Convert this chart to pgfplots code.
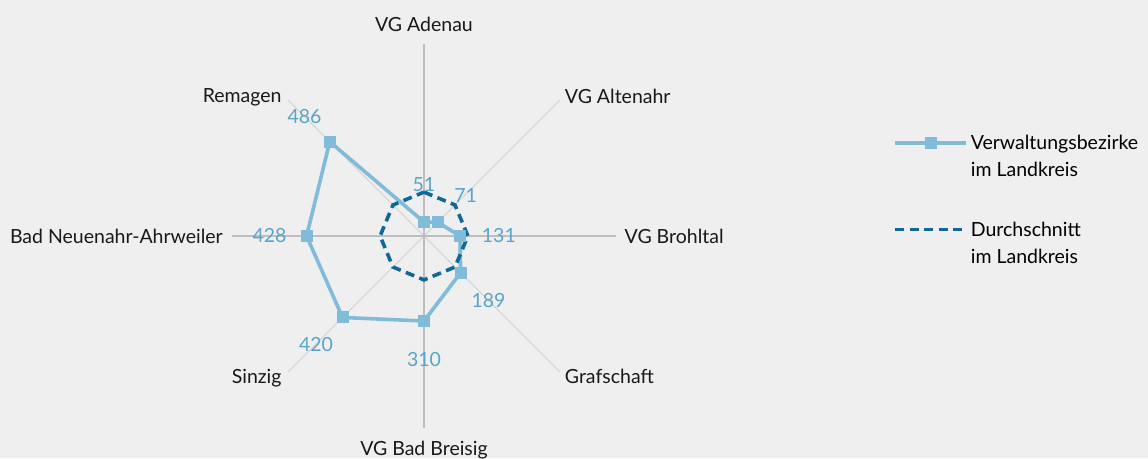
\documentclass[border=0pt]{standalone}
\usepackage{fontspec}
\setmainfont{Lato}
\usepackage{pgfplots}
\pgfplotsset{compat=1.18}
\usepgfplotslibrary{polar}
\definecolor{bg}{RGB}{238,239,238}
\definecolor{serie}{RGB}{128,187,217}
\definecolor{vallab}{RGB}{90,164,204}
\definecolor{avg}{RGB}{14,104,152}
\definecolor{spokeA}{RGB}{190,190,190}
\definecolor{spokeB}{RGB}{206,206,206}
\newcommand\chartfont{\fontsize{19.5}{27}\selectfont}
\tikzset{catlabel/.code={%
  \pgfmathtruncatemacro\tk{round(\tick)}%
  \ifnum\tk=0 \pgfkeysalso{anchor=base west,xshift=8.5pt,yshift=-7pt}\fi
  \ifnum\tk=45 \pgfkeysalso{anchor=base west,xshift=5pt,yshift=-3pt}\fi
  \ifnum\tk=90 \pgfkeysalso{anchor=base,yshift=13pt}\fi
  \ifnum\tk=135 \pgfkeysalso{anchor=base east,xshift=-6.5pt,yshift=-2pt}\fi
  \ifnum\tk=180 \pgfkeysalso{anchor=base east,xshift=-9pt,yshift=-7pt}\fi
  \ifnum\tk=225 \pgfkeysalso{anchor=base east,xshift=-6.5pt,yshift=-12pt}\fi
  \ifnum\tk=270 \pgfkeysalso{anchor=base,yshift=-27pt}\fi
  \ifnum\tk=315 \pgfkeysalso{anchor=base west,xshift=5pt,yshift=-12pt}\fi
}}
\begin{document}
\begin{tikzpicture}
\fill[bg] (-424pt,-222pt) rectangle (724pt,236pt);
\begin{polaraxis}[
  at={(0pt,0pt)}, anchor=origin,
  width=384pt, height=384pt, scale only axis,
  xmin=0, xmax=360, ymin=0, ymax=700,
  grid=none,
  axis line style={draw=none},
  xtick={0,45,90,135,180,225,270,315},
  xticklabels={VG Brohltal, VG Altenahr, VG Adenau, Remagen, Bad Neuenahr-Ahrweiler, Sinzig, VG Bad Breisig, Grafschaft},
  ytick=\empty,
  major tick length=0pt,
  xticklabel style={font=\chartfont, inner sep=0pt, text=black!90, catlabel},
  clip=false,
  legend cell align=left,
  legend style={
    at={(axis description cs:1.7215,0.764)}, anchor=north west,
    draw=none, fill=none, inner sep=0pt,
    font=\chartfont,
    nodes={align=left, inner sep=0pt},
    row sep=44pt, column sep=3pt,
  },
  legend image code/.code={\draw[mark repeat=2,mark phase=2,#1] plot coordinates {(0pt,13.5pt) (35.5pt,13.5pt) (71pt,13.5pt)};},
]
\addplot[spokeB, line width=0.9pt, forget plot] coordinates {(45,700) (225,700)};
\addplot[spokeB, line width=0.9pt, forget plot] coordinates {(135,700) (315,700)};
\addplot[spokeA, line width=1.5pt, forget plot] coordinates {(90,700) (270,700)};
\addplot[spokeA, line width=1.5pt, forget plot] coordinates {(0,700) (180,700)};
\addplot[serie, line width=3.6pt, mark=square*, mark size=4.2pt, mark options={solid, fill=serie, draw=none}]
  coordinates {(90,51) (45,71) (0,131) (315,189) (270,310) (225,420) (180,428) (135,486) (90,51)};
\addlegendentry{Verwaltungsbezirke\\im Landkreis}
\addplot[avg, line width=3.6pt, dash pattern=on 9pt off 5.5pt]
  coordinates {(90,160) (45,160) (0,160) (315,160) (270,160) (225,160) (180,160) (135,160) (90,160)};
\addlegendentry{Durchschnitt\\im Landkreis}
\addplot[draw=none, mark=none, forget plot, nodes near coords, point meta=explicit symbolic,
  every node near coord/.append style={anchor=center, font=\chartfont, text=vallab, inner sep=0pt}]
  coordinates {(90,186)[51] (44,211)[71] (0,273)[131] (315,333)[189] (270,452)[310] (225,557)[420] (180,563)[428] (135,616)[486]};
\end{polaraxis}
\pgfresetboundingbox
\path[use as bounding box] (-424pt,-222pt) rectangle (724pt,236pt);
\end{tikzpicture}
\end{document}
